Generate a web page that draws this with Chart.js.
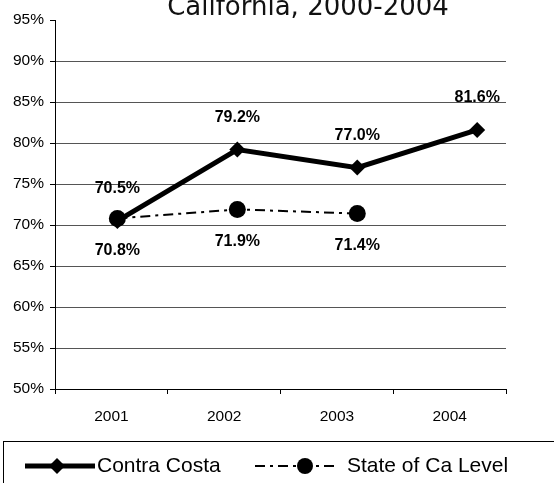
<!DOCTYPE html>
<html>
<head>
<meta charset="utf-8">
<script src="https://cdn.jsdelivr.net/npm/chart.js@4"></script>
<style>
  html, body { margin: 0; padding: 0; background: #fff; overflow: hidden; }
  canvas { display: block; }
</style>
</head>
<body>
<canvas id="myChart" width="554" height="483"></canvas>
<script>
const titleText = 'California, 2000-2004';
const years = ['2001', '2002', '2003', '2004'];
const contraCosta = [70.5, 79.2, 77.0, 81.6];
const stateLevel = [70.8, 71.9, 71.4, null];
const seriesNames = ['Contra Costa', 'State of Ca Level'];
const yTicks = [50, 55, 60, 65, 70, 75, 80, 85, 90, 95];

const toPoints = arr => arr.map((v, i) => ({ x: i, y: v })).filter(p => p.y !== null);

// title sits partly above the top edge, like the original picture
const titlePlugin = {
  id: 'cutTitle',
  afterDraw(chart) {
    let ctx = chart.ctx;
    ctx.save();
    ctx.font = '26px "DejaVu Sans"';
    ctx.fillStyle = '#111';
    ctx.textAlign = 'center';
    ctx.textBaseline = 'alphabetic';
    ctx.fillText(titleText, 308, 15);
    ctx.restore();
  }
};

const valueLabels = {
  id: 'valueLabels',
  afterDatasetsDraw(chart) {
    let ctx = chart.ctx;
    ctx.save();
    ctx.font = 'bold 16px "Liberation Sans", Arial';
    ctx.fillStyle = '#000';
    ctx.textAlign = 'center';
    ctx.textBaseline = 'middle';
    chart.data.datasets.forEach((ds, di) => {
      chart.getDatasetMeta(di).data.forEach((pt, i) => {
        let v = ds.data[i].y;
        let dy = di === 0 ? -32 : 32;
        ctx.fillText(v.toFixed(1) + '%', pt.x, pt.y + dy);
      });
    });
    ctx.restore();
  }
};

// legend box at the bottom: line sample with the marker in the middle
const boxLegend = {
  id: 'boxLegend',
  afterDraw(chart) {
    let ctx = chart.ctx;
    ctx.save();
    ctx.strokeStyle = '#000';
    ctx.lineWidth = 1;
    ctx.strokeRect(3.5, 441.5, 600, 100);

    let y = 466;
    // Contra Costa
    ctx.lineWidth = 5;
    ctx.setLineDash([]);
    ctx.beginPath(); ctx.moveTo(25, y); ctx.lineTo(95, y); ctx.stroke();
    ctx.fillStyle = '#000';
    ctx.beginPath();
    ctx.moveTo(57, y - 8); ctx.lineTo(65, y); ctx.lineTo(57, y + 8); ctx.lineTo(49, y);
    ctx.closePath(); ctx.fill();
    // State
    ctx.lineWidth = 2;
    ctx.setLineDash([10, 5, 3, 5]);
    ctx.beginPath(); ctx.moveTo(255, y); ctx.lineTo(338, y); ctx.stroke();
    ctx.setLineDash([]);
    ctx.beginPath(); ctx.arc(305, y, 8, 0, Math.PI * 2); ctx.fill();

    ctx.font = '21px "Liberation Sans", Arial';
    ctx.textBaseline = 'middle';
    ctx.textAlign = 'left';
    ctx.fillText(seriesNames[0], 97, y);
    ctx.fillText(seriesNames[1], 347, y);
    ctx.restore();
  }
};

let ctx = document.getElementById('myChart').getContext('2d');
let chart = new Chart(ctx, {
  type: 'line',
  data: {
    labels: years,
    datasets: [
      {
        label: seriesNames[0],
        data: toPoints(contraCosta),
        xAxisID: 'xData',
        borderColor: '#000',
        backgroundColor: '#000',
        borderWidth: 5,
        pointStyle: 'rectRot',
        pointRadius: 8,
        pointHoverRadius: 8,
        pointBorderWidth: 0,
        tension: 0
      },
      {
        label: seriesNames[1],
        data: toPoints(stateLevel),
        xAxisID: 'xData',
        borderColor: '#000',
        backgroundColor: '#000',
        borderWidth: 2,
        borderDash: [10, 5, 3, 5],
        pointStyle: 'circle',
        pointRadius: 8.5,
        pointHoverRadius: 8.5,
        pointBorderWidth: 0,
        tension: 0
      }
    ]
  },
  options: {
    responsive: false,
    animation: false,
    layout: { padding: { top: 20, right: 48, bottom: 0, left: 0 } },
    plugins: {
      legend: { display: false },
      title: { display: false },
      tooltip: { enabled: false }
    },
    scales: {
      x: {
        type: 'category',
        offset: true,
        grid: { display: true, drawOnChartArea: false, drawTicks: true, tickLength: 5, color: '#000', offset: true },
        border: { color: '#000', width: 1 },
        ticks: { color: '#000', font: { family: '"Liberation Sans", Arial', size: 15.5 }, padding: 13 },
        afterFit: scale => { scale.height = 94; }
      },
      xData: {
        type: 'linear',
        display: false,
        min: -0.52,
        max: 3.24
      },
      y: {
        min: 50,
        max: 95,
        afterBuildTicks: scale => { scale.ticks = yTicks.map(v => ({ value: v })); },
        grid: {
          color: c => (c.tick && c.tick.value === 95) ? 'rgba(0,0,0,0)' : '#555',
          tickColor: '#000',
          tickLength: 5,
          lineWidth: 1
        },
        border: { color: '#000', width: 1 },
        ticks: {
          color: '#000',
          font: { family: '"Liberation Sans", Arial', size: 15.5 },
          padding: 6,
          callback: v => v + '%'
        },
        afterFit: scale => { scale.width = 55; }
      }
    }
  },
  plugins: [valueLabels, titlePlugin, boxLegend]
});
</script>
</body>
</html>
